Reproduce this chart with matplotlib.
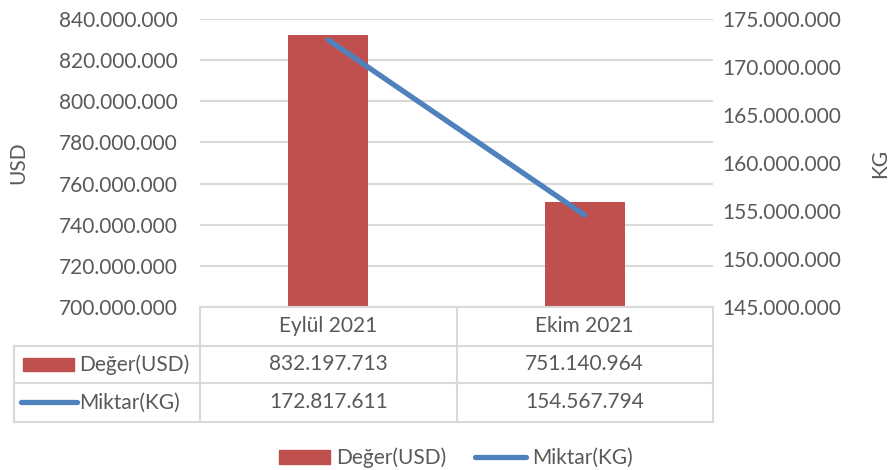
import matplotlib
matplotlib.use("Agg")
import matplotlib.pyplot as plt
from matplotlib.patches import Rectangle
from matplotlib.lines import Line2D
from matplotlib.transforms import blended_transform_factory

plt.rcParams['font.family'] = ['Lato', 'DejaVu Sans']

months = ["Eylül 2021", "Ekim 2021"]
usd_values = [832197713, 751140964]
kg_values = [172817611, 154567794]
usd_label = "Değer(USD)"
kg_label = "Miktar(KG)"
usd_ticks = [700e6, 720e6, 740e6, 760e6, 780e6, 800e6, 820e6, 840e6]
kg_ticks = [145e6, 150e6, 155e6, 160e6, 165e6, 170e6, 175e6]

bar_color = "#c0504d"
line_color = "#4f81bd"
text_color = "#595959"
grid_color = "#d9d9d9"
fs = 15


def dotted(v):
    return f"{int(round(v)):,}".replace(",", ".")


fig = plt.figure(figsize=(8.91, 4.70), dpi=100)
ax = fig.add_axes([200 / 891, 1 - 307 / 470, 513 / 891, 288 / 470])
ax2 = ax.twinx()

x = list(range(len(months)))
ax.bar(x, usd_values, width=0.31, color=bar_color, zorder=2)
ax.set_xlim(-0.5, len(months) - 0.5)
ax.set_ylim(usd_ticks[0], usd_ticks[-1])
ax.set_yticks(usd_ticks)
ax.set_yticklabels([dotted(v) for v in usd_ticks])
ax.yaxis.grid(True, color=grid_color, linewidth=1.5, zorder=0)
ax.set_axisbelow(True)
ax.set_xticks([])

ax2.plot(x, kg_values, color=line_color, linewidth=3.8, solid_capstyle="round", zorder=3)
ax2.set_ylim(kg_ticks[0], kg_ticks[-1])
ax2.set_yticks(kg_ticks)
ax2.set_yticklabels([dotted(v) for v in kg_ticks])

for a in (ax, ax2):
    for s in a.spines.values():
        s.set_visible(False)
    a.tick_params(axis="y", length=0, labelsize=fs, labelcolor=text_color)
ax.tick_params(axis="y", pad=16)
ax2.tick_params(axis="y", pad=6.5)

fig.text(18 / 891, 1 - 163 / 470, "USD", rotation=90, ha="center", va="center",
         fontsize=fs, color=text_color)
fig.text(880 / 891, 1 - 163 / 470, "KG", rotation=90, ha="center", va="center",
         fontsize=fs, color=text_color)

# data table under the plot
bt = blended_transform_factory(ax.transData, ax.transAxes)
left = -0.3626
row_lines = [0.0, -0.135, -0.264, -0.399]
lkw = dict(color=grid_color, linewidth=1.5, clip_on=False)
ax.plot([-0.5, len(months) - 0.5], [0, 0], transform=bt, **lkw)
for y in row_lines[1:]:
    ax.plot([left, 1.0], [y, y], transform=ax.transAxes, **lkw)
for xb in [i - 0.5 for i in range(len(months) + 1)]:
    ax.plot([xb, xb], [row_lines[0], row_lines[-1]], transform=bt, **lkw)
ax.plot([left, left], [row_lines[1], row_lines[-1]], transform=ax.transAxes, **lkw)

row_mid = [(row_lines[i] + row_lines[i + 1]) / 2 for i in range(3)]
for i, m in enumerate(months):
    ax.text(i, row_mid[0], m, transform=bt, ha="center", va="center",
            fontsize=fs, color=text_color)
    ax.text(i, row_mid[1], dotted(usd_values[i]), transform=bt, ha="center",
            va="center", fontsize=fs, color=text_color)
    ax.text(i, row_mid[2], dotted(kg_values[i]), transform=bt, ha="center",
            va="center", fontsize=fs, color=text_color)

ax.text(-0.236, row_mid[1], usd_label, transform=ax.transAxes, ha="left",
        va="center", fontsize=fs, color=text_color)
ax.text(-0.236, row_mid[2], kg_label, transform=ax.transAxes, ha="left",
        va="center", fontsize=fs, color=text_color)
ax.add_patch(Rectangle((-0.345, row_mid[1] - 0.024), 0.099, 0.048,
                       transform=ax.transAxes, color=bar_color, clip_on=False))
ax.add_line(Line2D([-0.349, -0.24], [row_mid[2], row_mid[2]], transform=ax.transAxes,
                   color=line_color, linewidth=3.8, solid_capstyle="round", clip_on=False))

handles = [Rectangle((0, 0), 1, 1, color=bar_color),
           Line2D([0], [0], color=line_color, linewidth=3.8, solid_capstyle="round")]
leg = fig.legend(handles, [usd_label, kg_label], loc="center",
                 bbox_to_anchor=(456 / 891, 1 - 458 / 470), ncol=2, frameon=False,
                 fontsize=fs, handlelength=2.45, handleheight=0.7,
                 handletextpad=0.3, columnspacing=1.4)
for t in leg.get_texts():
    t.set_color(text_color)

fig.savefig("out.png", dpi=100)
